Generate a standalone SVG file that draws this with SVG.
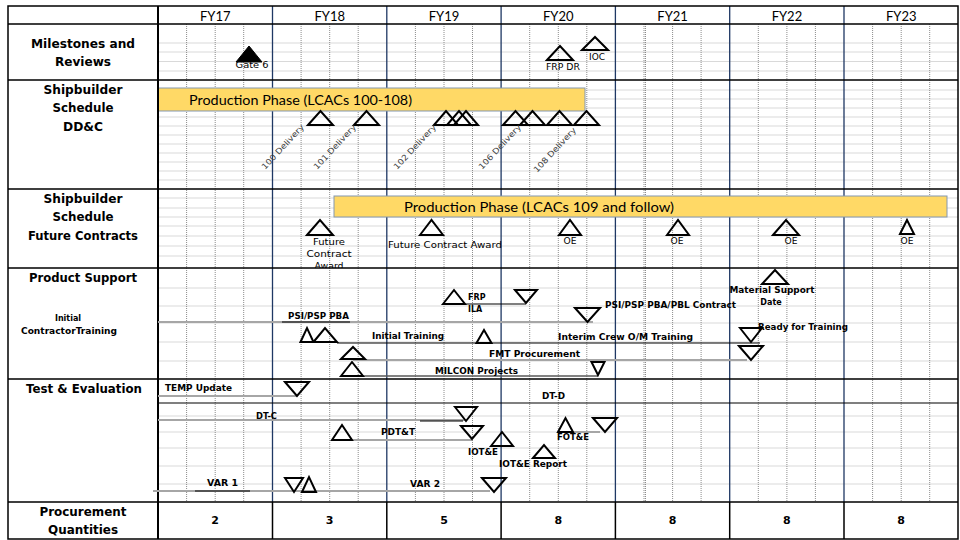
<svg xmlns="http://www.w3.org/2000/svg" width="960" height="540" viewBox="0 0 960 540">
<defs>
<style>
.gh{stroke:#D9D9D9;stroke-width:1;fill:none}
.q{stroke:#8C8C8C;stroke-width:1;stroke-dasharray:1 1;fill:none}
.yr{stroke:#1F3864;stroke-width:1.3;fill:none}
.sep{stroke:#000;stroke-width:1.5;fill:none}
.bar{fill:#FFD966;stroke:#8497B0;stroke-width:1}
.bt{font-family:Lato,"Liberation Sans",sans-serif;font-size:14px;fill:#000}
.fy{font-family:Lato,"Liberation Sans",sans-serif;font-size:13px;fill:#000;text-anchor:middle}
.lb{font-family:"DejaVu Sans",sans-serif;font-size:12px;font-weight:bold;fill:#000;text-anchor:middle}
.num{font-family:"DejaVu Sans",sans-serif;font-size:11px;font-weight:bold;fill:#000;text-anchor:middle}
.s{font-family:"DejaVu Sans",sans-serif;font-size:8px;fill:#000}
.sb{font-family:"DejaVu Sans",sans-serif;font-size:8px;font-weight:bold;fill:#000}
.c{text-anchor:middle}
.rot{font-family:"DejaVu Sans",sans-serif;font-size:8px;fill:#404040}
.tri{fill:none;stroke:#000;stroke-width:2;stroke-linejoin:miter}
.ln{stroke:#A6A6A6;stroke-width:2;fill:none}
.lk{stroke:#000;stroke-width:1.2;fill:none}
.ld{stroke:#595959;stroke-width:1.3;fill:none}
</style>
<clipPath id="fcClip"><rect x="158" y="189" width="800" height="79"/></clipPath>
</defs>
<rect x="0" y="0" width="960" height="540" fill="#fff"/>

<g id="grid">
<path class="gh" d="M158 43H958M158 52H958M158 61.5H958M158 71H958
M158 90H958M158 99H958M158 108H958M158 117H958M158 126H958M158 135H958M158 144H958M158 153H958M158 162H958M158 171H958M158 180H958
M158 198H958M158 208H958M158 217H958M158 226H958M158 236H958M158 246H958M158 256H958
M158 288H958M158 306H958M158 323H958M158 342H958M158 361H958
M158 416H958M158 432H958M158 448H958M158 466H958M158 484H958"/>
<path class="q" d="M186.6 24V502M215.2 24V502M243.7 24V502M301.1 24V502M329.7 24V502M358.2 24V502M415.4 24V502M444 24V502M472.5 24V502M529.7 24V502M558.3 24V502M586.8 24V502M644 24V502M645.5 24V502M672.6 24V502M701.1 24V502M758.3 24V502M786.9 24V502M815.4 24V502M872.6 24V502M901.2 24V502M929.7 24V502"/>
<path class="yr" d="M272.5 6V502M386.8 6V502M501.1 6V502M615.4 6V502M729.7 6V502M844 6V502"/>
<path class="sep" d="M272.5 502V539M386.8 502V539M501.1 502V539M615.4 502V539M729.7 502V539M844 502V539"/>
</g>

<g id="bar-dd">
<rect class="bar" x="158" y="88" width="427" height="23"/>
<text class="bt" x="189" y="105" textLength="223" lengthAdjust="spacingAndGlyphs">Production Phase (LCACs 100-108)</text>
</g>
<g id="bar-fc">
<rect class="bar" x="334" y="196" width="613" height="21"/>
<text class="bt" x="404" y="212" textLength="270" lengthAdjust="spacingAndGlyphs">Production Phase (LCACs 109 and follow)</text>
</g>

<g id="frame">
<rect x="8" y="6" width="950" height="533" fill="none" stroke="#000" stroke-width="1.5"/>
<path class="sep" d="M8 24H958M8 80H958M8 189H958M8 268H958M8 379H958M8 502H958"/>
<path d="M158 6V539" stroke="#000" stroke-width="2"/>
<path class="lk" d="M158 403H958"/>
</g>

<g id="header">
<text class="fy" x="215.2" y="21">FY17</text>
<text class="fy" x="329.7" y="21">FY18</text>
<text class="fy" x="444" y="21">FY19</text>
<text class="fy" x="558.3" y="21">FY20</text>
<text class="fy" x="672.6" y="21">FY21</text>
<text class="fy" x="786.9" y="21">FY22</text>
<text class="fy" x="901.2" y="21">FY23</text>
</g>

<g id="row-labels">
<text class="lb" x="83" y="48" textLength="104" lengthAdjust="spacingAndGlyphs">Milestones and</text>
<text class="lb" x="83" y="66" textLength="56" lengthAdjust="spacingAndGlyphs">Reviews</text>
<text class="lb" x="83" y="94" textLength="79" lengthAdjust="spacingAndGlyphs">Shipbuilder</text>
<text class="lb" x="83" y="112" textLength="61" lengthAdjust="spacingAndGlyphs">Schedule</text>
<text class="lb" x="83" y="131" textLength="40" lengthAdjust="spacingAndGlyphs">DD&amp;C</text>
<text class="lb" x="83" y="203" textLength="79" lengthAdjust="spacingAndGlyphs">Shipbuilder</text>
<text class="lb" x="83" y="221" textLength="61" lengthAdjust="spacingAndGlyphs">Schedule</text>
<text class="lb" x="83" y="240" textLength="110" lengthAdjust="spacingAndGlyphs">Future Contracts</text>
<text class="lb" x="83" y="282" textLength="108" lengthAdjust="spacingAndGlyphs">Product Support</text>
<text class="sb c" x="68" y="321">Initial</text>
<text class="sb c" x="69" y="334" textLength="96" lengthAdjust="spacingAndGlyphs">ContractorTraining</text>
<text class="lb" x="84" y="393" textLength="116" lengthAdjust="spacingAndGlyphs">Test &amp; Evaluation</text>
<text class="lb" x="83" y="516" textLength="87" lengthAdjust="spacingAndGlyphs">Procurement</text>
<text class="lb" x="83" y="534" textLength="70" lengthAdjust="spacingAndGlyphs">Quantities</text>
</g>

<g id="quantities">
<text class="num" x="215.2" y="524">2</text>
<text class="num" x="329.7" y="524">3</text>
<text class="num" x="444" y="524">5</text>
<text class="num" x="558.3" y="524">8</text>
<text class="num" x="672.6" y="524">8</text>
<text class="num" x="786.9" y="524">8</text>
<text class="num" x="901.2" y="524">8</text>
</g>

<g id="connectors">
<path class="ln" d="M158 322H593"/>
<path class="lk" d="M282 322H350"/>
<path class="lk" d="M454 304H526"/>
<path class="lk" d="M337 343H760"/>
<path class="ln" d="M353 360H747"/>
<path class="ld" d="M352 376H598"/>
<path class="ln" d="M158 396H297"/>
<path class="ln" d="M158 420H466"/>
<path class="lk" d="M420 421H463"/>
<path class="ln" d="M342 440H472"/>
<path class="ln" d="M565 432H600"/>
<path class="ln" d="M153 491H490"/>
<path class="lk" d="M195 491H250"/>
</g>

<g id="gate6">
<path d="M236 62L249 46L262 62Z" fill="#000" stroke="#000" stroke-width="1"/>
<text class="s c" x="252" y="68" textLength="33" lengthAdjust="spacingAndGlyphs">Gate 6</text>
</g>
<g id="frp-dr">
<path class="tri" d="M547 60L560 46L573 60Z"/>
<text class="s c" x="563" y="70" textLength="34" lengthAdjust="spacingAndGlyphs">FRP DR</text>
</g>
<g id="ioc">
<path class="tri" d="M582 50L595 37L608 50Z"/>
<text class="s c" x="597" y="60" textLength="16" lengthAdjust="spacingAndGlyphs">IOC</text>
</g>

<g id="deliveries">
<path class="tri" d="M308 125L320.5 111L333 125Z"/>
<path class="tri" d="M354 125L366.5 111L379 125Z"/>
<path class="tri" d="M434 125L446 111L458 125Z"/>
<path class="tri" d="M447 125L459 111L471 125Z"/>
<path class="tri" d="M454 125L466 111L478 125Z"/>
<path class="tri" d="M503 125L515.5 111L528 125Z"/>
<path class="tri" d="M520 125L532.5 111L545 125Z"/>
<path class="tri" d="M547 125L559.5 111L572 125Z"/>
<path class="tri" d="M574 125L586.5 111L599 125Z"/>
<text class="rot" transform="translate(265 170) rotate(-47)" textLength="58" lengthAdjust="spacingAndGlyphs">100 Delivery</text>
<text class="rot" transform="translate(317 170) rotate(-47)" textLength="58" lengthAdjust="spacingAndGlyphs">101 Delivery</text>
<text class="rot" transform="translate(397 170) rotate(-47)" textLength="58" lengthAdjust="spacingAndGlyphs">102 Delivery</text>
<text class="rot" transform="translate(482 170) rotate(-47)" textLength="58" lengthAdjust="spacingAndGlyphs">106 Delivery</text>
<text class="rot" transform="translate(537 173) rotate(-47)" textLength="58" lengthAdjust="spacingAndGlyphs">108 Delivery</text>
</g>

<g id="fc-award-1">
<path class="tri" d="M307 235L320 220L333 235Z"/>
<g clip-path="url(#fcClip)">
<text class="s c" x="329" y="245" textLength="32" lengthAdjust="spacingAndGlyphs">Future</text>
<text class="s c" x="329" y="257" textLength="45" lengthAdjust="spacingAndGlyphs">Contract</text>
<text class="s c" x="329" y="269" textLength="29" lengthAdjust="spacingAndGlyphs">Award</text>
</g>
</g>
<g id="fc-award-2">
<path class="tri" d="M420 235L431.5 220L443 235Z"/>
<text class="s c" x="445" y="248" textLength="114" lengthAdjust="spacingAndGlyphs">Future Contract Award</text>
</g>
<g id="oe-1"><path class="tri" d="M559 235L570 220L581 235Z"/><text class="s c" x="570" y="244" textLength="13" lengthAdjust="spacingAndGlyphs">OE</text></g>
<g id="oe-2"><path class="tri" d="M667 235L678 220L689 235Z"/><text class="s c" x="677" y="244" textLength="13" lengthAdjust="spacingAndGlyphs">OE</text></g>
<g id="oe-3"><path class="tri" d="M773 235L786 220L799 235Z"/><text class="s c" x="791" y="244" textLength="13" lengthAdjust="spacingAndGlyphs">OE</text></g>
<g id="oe-4"><path class="tri" d="M900 234L907 220L914 234Z"/><text class="s c" x="907" y="244" textLength="13" lengthAdjust="spacingAndGlyphs">OE</text></g>

<g id="material-support">
<path class="tri" d="M762 284L775 270L788 284Z"/>
<text class="sb c" x="772" y="293" textLength="85" lengthAdjust="spacingAndGlyphs">Material Support</text>
<text class="sb c" x="771" y="305">Date</text>
</g>
<g id="frp-ila">
<path class="tri" d="M443 304L454 290L465 304Z"/>
<text class="sb" x="468" y="300">FRP</text>
<text class="sb" x="468" y="312">ILA</text>
<path class="tri" d="M515 290L526 303L537 290Z"/>
</g>
<g id="psi-pba">
<text class="sb" x="288" y="319" textLength="61" lengthAdjust="spacingAndGlyphs">PSI/PSP PBA</text>
<path class="tri" d="M575 308L587.5 322L600 308Z"/>
<text class="sb" x="605" y="308" textLength="131" lengthAdjust="spacingAndGlyphs">PSI/PSP PBA/PBL Contract</text>
</g>
<g id="initial-training">
<path class="tri" d="M300.5 342L307 328L313.5 342Z"/>
<path class="tri" d="M313.5 342L325 328L337 342Z"/>
<text class="sb" x="372" y="339" textLength="72" lengthAdjust="spacingAndGlyphs">Initial Training</text>
</g>
<g id="interim-crew">
<path class="tri" d="M476.5 343L484 330L491.5 343Z"/>
<text class="sb" x="558" y="340" textLength="135" lengthAdjust="spacingAndGlyphs">Interim Crew O/M Training</text>
</g>
<g id="ready-training">
<path class="tri" d="M740 328L751 342L762 328Z"/>
<text class="sb" x="758" y="330" textLength="90" lengthAdjust="spacingAndGlyphs">Ready for Training</text>
</g>
<g id="fmt">
<path class="tri" d="M341 359L353 347L365 359Z"/>
<text class="sb" x="489" y="357" textLength="91" lengthAdjust="spacingAndGlyphs">FMT Procurement</text>
<path class="tri" d="M739 346L751 360L763 346Z"/>
</g>
<g id="milcon">
<path class="tri" d="M341 376L352 362L363 376Z"/>
<text class="sb" x="435" y="374" textLength="83" lengthAdjust="spacingAndGlyphs">MILCON Projects</text>
<path class="tri" d="M591.5 362L598 375L604.5 362Z"/>
</g>

<g id="temp">
<text class="sb" x="165" y="391" textLength="67" lengthAdjust="spacingAndGlyphs">TEMP Update</text>
<path class="tri" d="M285 382L297 396L309 382Z"/>
</g>
<g id="dt-d"><text class="sb" x="542" y="399" textLength="23" lengthAdjust="spacingAndGlyphs">DT-D</text></g>
<g id="dt-c">
<text class="sb" x="256" y="419" textLength="21" lengthAdjust="spacingAndGlyphs">DT-C</text>
<path class="tri" d="M455 407L466 421L477 407Z"/>
</g>
<g id="pdtt">
<path class="tri" d="M332 440L342 425L352 440Z"/>
<text class="sb" x="381" y="435" textLength="34" lengthAdjust="spacingAndGlyphs">PDT&amp;T</text>
<path class="tri" d="M461 426L472 439L483 426Z"/>
</g>
<g id="iote">
<path class="tri" d="M491 446L502 432L513 446Z"/>
<text class="sb" x="468" y="455" textLength="30" lengthAdjust="spacingAndGlyphs">IOT&amp;E</text>
</g>
<g id="iote-report">
<path class="tri" d="M533 458L544 445L555 458Z"/>
<text class="sb" x="499" y="467" textLength="68" lengthAdjust="spacingAndGlyphs">IOT&amp;E Report</text>
</g>
<g id="fote">
<path class="tri" d="M558 432L565.5 418L573 432Z"/>
<text class="sb" x="557" y="440" textLength="32" lengthAdjust="spacingAndGlyphs">FOT&amp;E</text>
<path class="tri" d="M593 418L605 432L617 418Z"/>
</g>
<g id="var1">
<text class="sb" x="207" y="486" textLength="31" lengthAdjust="spacingAndGlyphs">VAR 1</text>
<path class="tri" d="M285 478L294 492L303 478Z"/>
<path class="tri" d="M302 492L309 477L316 492Z"/>
</g>
<g id="var2">
<text class="sb" x="410" y="487" textLength="30" lengthAdjust="spacingAndGlyphs">VAR 2</text>
<path class="tri" d="M482 478L494 492L506 478Z"/>
</g>
</svg>
